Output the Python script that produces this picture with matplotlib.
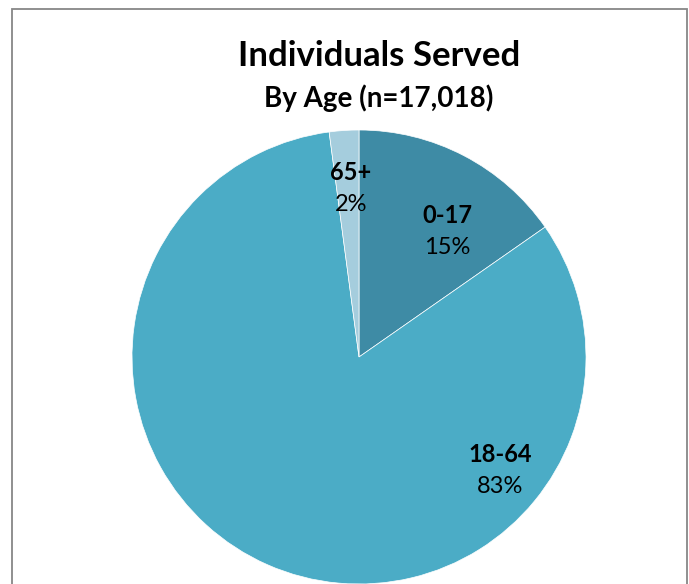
import matplotlib
matplotlib.use("Agg")
import matplotlib.pyplot as plt
from matplotlib.patches import Rectangle

categories = ["0-17", "18-64", "65+"]
shares = [15.3, 82.6, 2.1]
colors = ["#3E8BA5", "#4BACC6", "#A5CDDD"]
title = "Individuals Served"
subtitle = "By Age (n=17,018)"

# label anchor positions (in pie-radius units), layout only
label_pos = [(0.388, 0.555), (0.621, -0.502), (-0.035, 0.744)]

W, H = 689, 584
fig = plt.figure(figsize=(W / 100, H / 100), dpi=100)
plt.rcParams['font.family'] = ['Lato', 'DejaVu Sans']

cx, cy, r = 359, 357, 227
ax = fig.add_axes([(cx - r) / W, (H - cy - r) / H, 2 * r / W, 2 * r / H])
ax.pie(shares, colors=colors, startangle=90, counterclock=False,
       wedgeprops=dict(edgecolor="white", linewidth=0.5), radius=1.0)
ax.set_xlim(-1, 1)
ax.set_ylim(-1, 1)
ax.set_aspect("equal")
ax.axis("off")
for p in ax.patches:
    p.set_clip_on(False)

total = sum(shares)
gap = 16 / r
for cat, v, (x, y) in zip(categories, shares, label_pos):
    ax.text(x, y + gap, cat, ha="center", va="center", fontsize=17,
            fontweight="bold", color="black")
    ax.text(x, y - gap, f"{v / total * 100:.0f}%", ha="center", va="center",
            fontsize=17, color="black")

fig.text(379 / W, 1 - 56 / H, title, ha="center", va="center",
         fontsize=25, fontweight="bold")
fig.text(379 / W, 1 - 98 / H, subtitle, ha="center", va="center",
         fontsize=20, fontweight="bold")

fig.patches.append(Rectangle((11.5 / W, -0.1), (686.5 - 11.5) / W, 1.1 - 9.5 / H,
                             transform=fig.transFigure, fill=False,
                             edgecolor="#878787", linewidth=1.3))

fig.savefig("out.png", dpi=100)
